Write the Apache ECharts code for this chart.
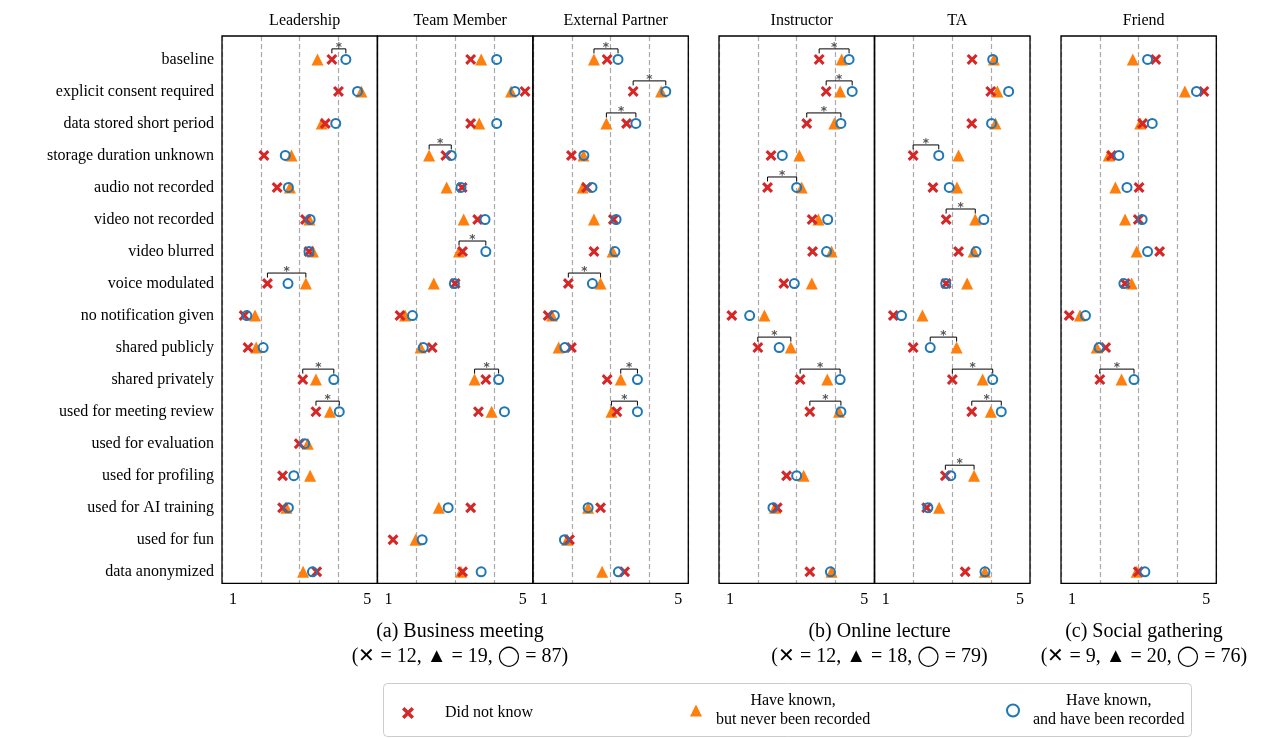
<!DOCTYPE html>
<html><head><meta charset="utf-8">
<script src="https://cdn.jsdelivr.net/npm/echarts@6/dist/echarts.min.js"></script>
<style>html,body{margin:0;padding:0;background:#fff}#c{width:1261px;height:738px}</style>
</head><body><div id="c"></div>
<script>
const categories = ['baseline','explicit consent required','data stored short period','storage duration unknown','audio not recorded','video not recorded','video blurred','voice modulated','no notification given','shared publicly','shared privately','used for meeting review','used for evaluation','used for profiling','used for AI training','used for fun','data anonymized'];
const panelNames = ['Leadership','Team Member','External Partner','Instructor','TA','Friend'];
const seriesNames = ['Did not know','Have known,\nbut never been recorded','Have known,\nand have been recorded'];
const groupTitles = ['(a) Business meeting','(b) Online lecture','(c) Social gathering'];
const groupCounts = ['(\u2715 = 12, \u25B2 = 19, \u25EF = 87)','(\u2715 = 12, \u25B2 = 18, \u25EF = 79)','(\u2715 = 9, \u25B2 = 20, \u25EF = 76)'];
const xTicks = [1, 5];
const N = null;
// series order per panel: Did not know (x), never recorded (triangle), recorded (circle)
const leadershipDNK   = [3.83,4.00,3.66,2.08,2.42,3.15,3.24,2.17,1.57,1.67,3.08,3.42,2.99,2.56,2.56,N,3.44];
const leadershipNever = [3.46,4.59,3.57,2.79,2.75,3.25,3.34,3.16,1.85,1.88,3.42,3.78,3.21,3.27,2.66,N,3.09];
const leadershipRec   = [4.19,4.49,3.93,2.63,2.71,3.27,3.24,2.70,1.64,2.06,3.88,4.02,3.13,2.85,2.71,N,3.33];
const leadershipSig   = [[0,0,2],[7,0,1],[10,0,2],[11,0,2]];
const teamDNK   = [3.40,4.80,3.40,2.76,3.18,3.58,3.19,3.00,1.58,2.41,3.79,3.60,N,N,3.40,1.40,3.19];
const teamNever = [3.67,4.44,3.62,2.33,2.78,3.22,3.10,2.45,1.71,2.11,3.50,3.94,N,N,2.58,1.98,3.15];
const teamRec   = [4.07,4.54,4.07,2.90,3.15,3.77,3.79,2.98,1.90,2.18,4.12,4.27,N,N,2.82,2.15,3.67];
const teamSig   = [[3,1,2],[6,1,2],[10,1,2]];
const externalDNK   = [2.91,3.58,3.41,1.99,2.38,3.07,2.57,1.91,1.39,1.99,2.91,3.16,N,N,2.74,1.94,3.36];
const externalNever = [2.57,4.30,2.89,2.30,2.28,2.57,3.05,2.74,1.49,1.66,3.26,3.02,N,N,2.42,1.88,2.78];
const externalRec   = [3.19,4.42,3.65,2.31,2.52,3.14,3.11,2.53,1.55,1.82,3.69,3.69,N,N,2.42,1.81,3.20];
const externalSig   = [[0,1,2],[1,0,2],[2,1,2],[7,0,1],[10,1,2],[11,1,2]];
const instructorDNK   = [3.58,3.76,3.26,2.34,2.25,3.40,3.41,2.67,1.33,2.00,3.09,3.34,N,2.74,2.50,N,3.34];
const instructorNever = [4.16,4.12,3.97,3.07,3.13,3.56,3.90,3.39,2.17,2.85,3.79,4.09,N,3.18,2.44,N,3.90];
const instructorRec   = [4.35,4.43,4.14,2.63,3.00,3.80,3.77,2.94,1.79,2.55,4.12,4.14,N,3.00,2.39,N,3.87];
const instructorSig   = [[0,0,2],[1,0,2],[2,0,2],[4,0,2],[9,0,1],[10,0,2],[11,0,2]];
const taDNK   = [3.51,3.99,3.50,1.99,2.50,2.84,3.16,2.84,1.48,1.99,3.00,3.50,N,2.82,2.34,N,3.33];
const taNever = [4.07,4.16,4.11,3.16,3.12,3.59,3.55,3.38,2.23,3.11,3.78,3.99,N,3.56,2.66,N,3.84];
const taRec   = [4.04,4.45,4.01,2.65,2.92,3.81,3.61,2.83,1.69,2.43,4.04,4.26,N,2.96,2.37,N,3.84];
const taSig   = [[3,0,2],[5,0,1],[9,2,1],[10,0,2],[11,0,2],[13,0,1]];
const friendDNK   = [3.44,4.68,3.10,2.30,3.01,2.99,3.54,2.65,1.21,2.15,2.00,N,N,N,N,N,2.99];
const friendNever = [2.85,4.19,3.04,2.23,2.40,2.65,2.95,2.82,1.49,1.92,2.56,N,N,N,N,N,2.95];
const friendRec   = [3.23,4.49,3.35,2.49,2.70,3.09,3.23,2.62,1.63,1.98,2.88,N,N,N,N,N,3.16];
const friendSig   = [[10,0,2]];

const panels = [
  [leadershipDNK, leadershipNever, leadershipRec, leadershipSig],
  [teamDNK, teamNever, teamRec, teamSig],
  [externalDNK, externalNever, externalRec, externalSig],
  [instructorDNK, instructorNever, instructorRec, instructorSig],
  [taDNK, taNever, taRec, taSig],
  [friendDNK, friendNever, friendRec, friendSig]
];

const FONT = '"Liberation Serif", "Times New Roman", "DejaVu Serif", serif';
const lefts = [222, 377.5, 533, 719, 874.7, 1061];
const W = 155.3, TOP = 36, H = 547.3;
const groupCenters = [455, 874.5, 1139];
const colors = ['#d62728', '#ff7f0e', '#1f77b4'];
const crossPath = 'path://M2,0 L5,3 L8,0 L10,2 L7,5 L10,8 L8,10 L5,7 L2,10 L0,8 L3,5 L0,2 Z';

const grids = [], xAxes = [], yAxes = [], series = [], titles = [];
panels.forEach((p, i) => {
  grids.push({left: lefts[i], top: TOP, width: W, height: H, show: true, borderColor: '#000', borderWidth: 1.3, backgroundColor: 'rgba(0,0,0,0)', z: 5});
  xAxes.push({gridIndex: i, type: 'value', min: 1, max: 5, interval: 1,
    axisLine: {show: false}, axisTick: {show: false},
    splitLine: {show: true, lineStyle: {color: '#aaa', type: [5, 3], width: 1.2}},
    axisLabel: {margin: 8, color: '#000', fontFamily: FONT, fontSize: 16,
      formatter: v => v === xTicks[0] ? '{a|' + v + '}' : (v === xTicks[1] ? '{b|' + v + '}' : ''),
      rich: {a: {padding: [0,0,0,22], fontFamily: FONT, fontSize: 16, color: '#000'},
             b: {padding: [0,20,0,0], fontFamily: FONT, fontSize: 16, color: '#000'}}}
  });
  yAxes.push({gridIndex: i, type: 'value', inverse: true, min: -0.73, max: 16.36,
    axisLine: {show: false}, axisTick: {show: false}, splitLine: {show: false},
    axisLabel: {show: i === 0, customValues: categories.map((c, k) => k), margin: 8,
      color: '#000', fontFamily: FONT, fontSize: 16, formatter: v => categories[Math.round(v)] || ''}
  });
  titles.push({text: panelNames[i], left: lefts[i] + W / 2, top: 8, textAlign: 'center',
    textStyle: {fontFamily: FONT, fontSize: 16, fontWeight: 'normal', color: '#000'}});
  const defs = [
    {symbol: crossPath, size: 11, style: {color: colors[0], opacity: 1}, z: 3},
    {symbol: 'triangle', size: 12, style: {color: colors[1], opacity: 1}, z: 2},
    {symbol: 'circle', size: 9, style: {color: 'rgba(0,0,0,0)', borderColor: colors[2], borderWidth: 2, opacity: 1}, z: 4}
  ];
  defs.forEach((d, k) => {
    const data = [];
    p[k].forEach((v, r) => { if (v !== null) data.push([v, r]); });
    series.push({type: 'scatter', name: seriesNames[k], xAxisIndex: i, yAxisIndex: i, data: data,
      symbol: d.symbol, symbolSize: d.size, symbolKeepAspect: true, itemStyle: d.style, z: d.z, silent: true});
  });
  const sig = p[3];
  const sigData = sig.map(s => [p[s[1]][s[0]], s[0], p[s[2]][s[0]]]);
  series.push({type: 'custom', xAxisIndex: i, yAxisIndex: i, data: sigData, z: 6, silent: true,
    encode: {x: [0, 2], y: 1},
    renderItem: (params, api) => {
      const a = api.coord([api.value(0), api.value(1)]);
      const b = api.coord([api.value(2), api.value(1)]);
      const x1 = Math.min(a[0], b[0]), x2 = Math.max(a[0], b[0]);
      const y = a[1] - 10.5;
      return {type: 'group', children: [
        {type: 'polyline', shape: {points: [[x1, y + 4.5], [x1, y], [x2, y], [x2, y + 4.5]]},
         style: {stroke: '#000', lineWidth: 1, fill: null}},
        {type: 'text', style: {text: '*', x: (x1 + x2) / 2, y: y - 1.5, align: 'center', verticalAlign: 'middle',
          fill: '#555', font: 'bold 12px "DejaVu Sans", sans-serif'}}
      ]};
    }});
});

groupTitles.forEach((t, g) => {
  titles.push({text: t, left: groupCenters[g], top: 617, textAlign: 'center',
    textStyle: {fontFamily: FONT, fontSize: 20, fontWeight: 'normal', color: '#000'}});
  titles.push({text: groupCounts[g], left: groupCenters[g], top: 642, textAlign: 'center',
    textStyle: {fontFamily: FONT, fontSize: 20, fontWeight: 'normal', color: '#000'}});
});

const legendRich = {c: {align: 'center', fontFamily: FONT, fontSize: 16, color: '#000', lineHeight: 19}};
const legendFmt = name => name.split('\n').map(s => '{c|' + s + '}').join('\n');
const mkLegend = (name, left, top, pad) => ({data: [name], left: left, top: top, itemWidth: 12, itemHeight: 12,
  padding: 0, selectedMode: false, formatter: legendFmt,
  textStyle: {fontFamily: FONT, fontSize: 16, color: '#000', lineHeight: 19, padding: [0, 0, 0, pad], rich: legendRich}});
const legends = [
  mkLegend(seriesNames[0], 402, 703.5, 26),
  mkLegend(seriesNames[1], 690, 691.5, 9),
  mkLegend(seriesNames[2], 1006, 691.5, 9)
];

const chart = echarts.init(document.getElementById('c'), null, {renderer: 'canvas'});
chart.setOption({
  animation: false,
  backgroundColor: '#fff',
  title: titles,
  grid: grids, xAxis: xAxes, yAxis: yAxes, series: series,
  legend: legends,
  graphic: [{type: 'rect', left: 383, top: 683, shape: {width: 808, height: 53, r: 4},
    style: {fill: 'rgba(0,0,0,0)', stroke: '#ccc', lineWidth: 1}, z: 0, silent: true}]
});
</script></body></html>
